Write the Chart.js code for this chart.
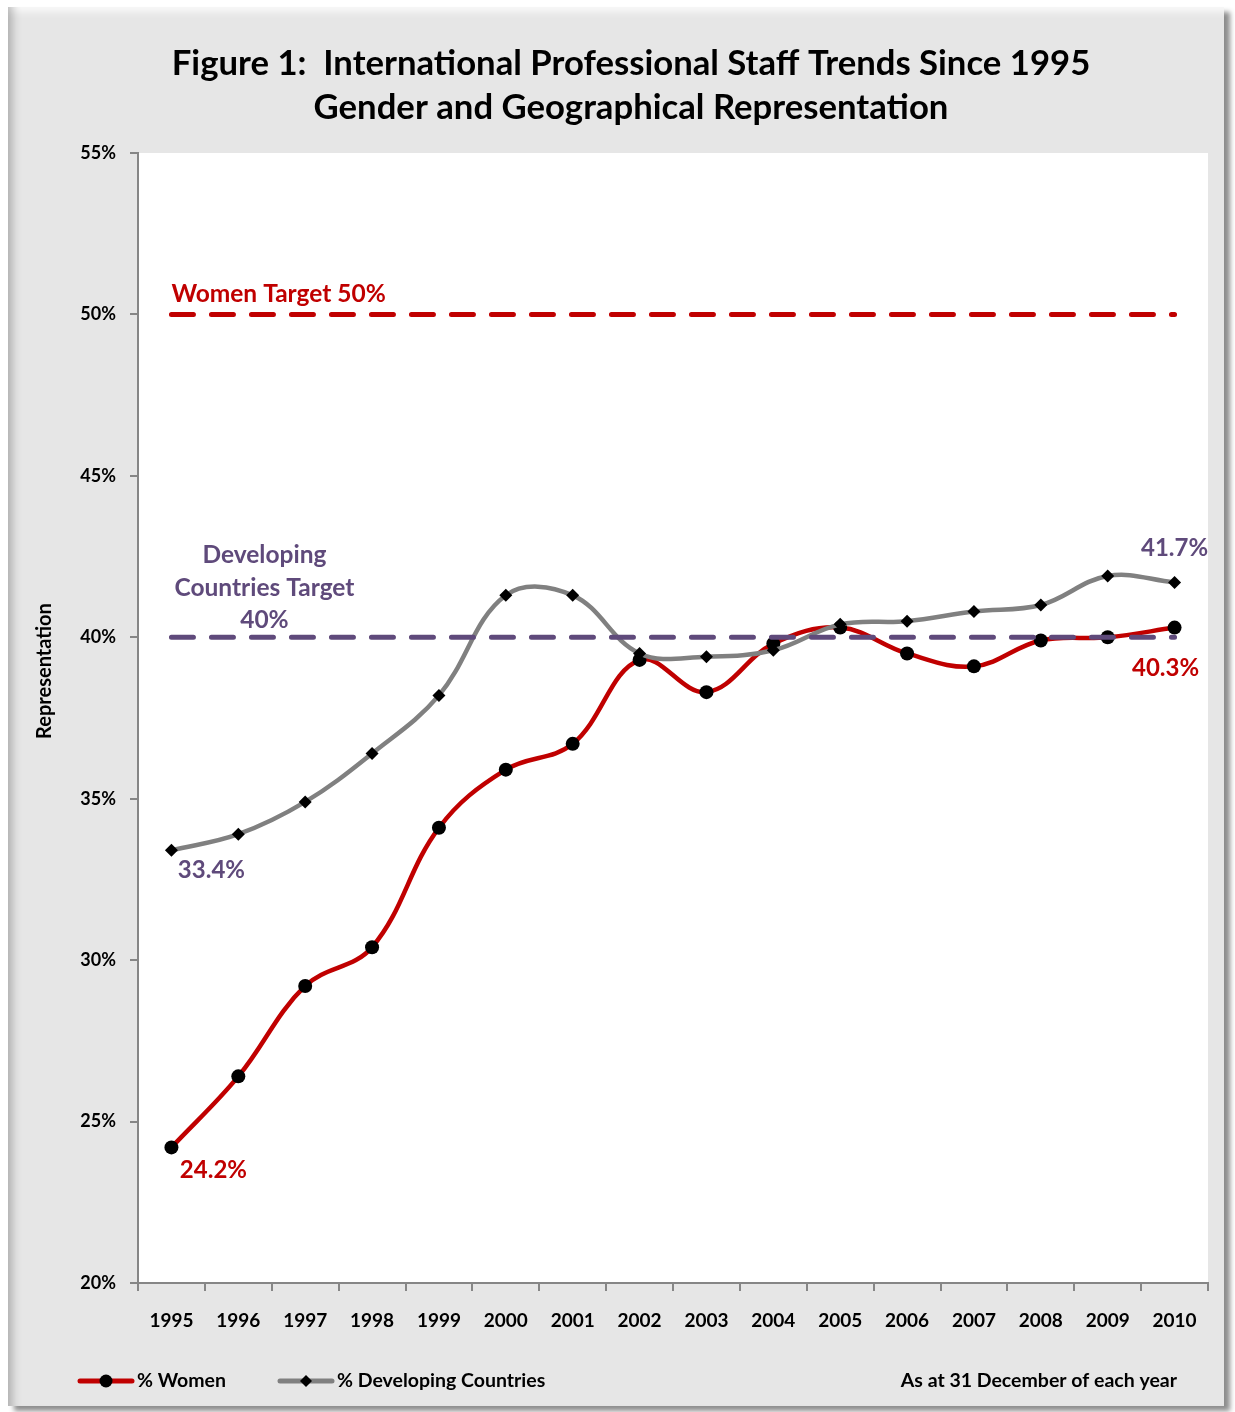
<!DOCTYPE html>
<html>
<head>
<meta charset="utf-8">
<title>Figure 1</title>
<script src="https://cdn.jsdelivr.net/npm/chart.js@4.4.0/dist/chart.umd.min.js"></script>
<style>
    body { margin: 0; background: #fff; }
    #wrap { position: relative; width: 1235px; height: 1412px; }
    #frame {
        position: absolute; left: 8px; top: 7px; width: 1216px; height: 1399px;
        background: #e6e6e6;
        box-shadow: 6px 5px 5px rgba(0, 0, 0, 0.45),
                    inset 12px 0 10px -8px rgba(0, 0, 0, 0.25),
                    inset 0 12px 8px -8px rgba(255, 255, 255, 0.9);
    }
    canvas { position: absolute; left: 0; top: 0; }
</style>
</head>
<body>
<div id="wrap">
    <div id="frame"></div>
    <canvas id="chart" width="1235" height="1412"></canvas>
</div>
<script>
// Data
const years = ['1995', '1996', '1997', '1998', '1999', '2000', '2001', '2002',
               '2003', '2004', '2005', '2006', '2007', '2008', '2009', '2010'];
const womenPct = [24.2, 26.4, 29.2, 30.4, 34.1, 35.9, 36.7, 39.3,
                  38.3, 39.8, 40.3, 39.5, 39.1, 39.9, 40.0, 40.3];
const developingPct = [33.4, 33.9, 34.9, 36.4, 38.2, 41.3, 41.3, 39.5,
                       39.4, 39.6, 40.4, 40.5, 40.8, 41.0, 41.9, 41.7];
const womenTarget = 50;
const developingTarget = 40;
const yTicks = [20, 25, 30, 35, 40, 45, 50, 55];

const FONT = "Lato, 'Open Sans', sans-serif";
const colors = {
    red: '#c00000',
    gray: '#808080',
    purple: '#5f4a7b',
    axis: '#868686',
    marker: '#000000'
};

// white plot area
const plotBackground = {
    id: 'plotBackground',
    beforeDraw(chart) {
        const { ctx, chartArea: a } = chart;
        ctx.save();
        ctx.fillStyle = '#ffffff';
        ctx.fillRect(a.left, a.top, a.right - a.left, a.bottom - a.top);
        ctx.restore();
    }
};

// title, axis title, callouts and legend
const textPlugin = {
    id: 'textPlugin',
    afterDraw(chart) {
        const { ctx, scales: { x, y } } = chart;
        ctx.save();
        ctx.textBaseline = 'middle';

        ctx.fillStyle = '#000';
        ctx.textAlign = 'center';
        ctx.font = 'bold 34.7px ' + FONT;
        ctx.fillText('Figure 1:  International Professional Staff Trends Since 1995', 631, 64);
        ctx.fillText('Gender and Geographical Representation', 631, 108);

        ctx.save();
        ctx.translate(45, 671);
        ctx.rotate(-Math.PI / 2);
        ctx.font = 'bold 20px ' + FONT;
        ctx.fillText('Representation', 0, 0);
        ctx.restore();

        const x0 = x.getPixelForValue(0);
        const xN = x.getPixelForValue(years.length - 1);

        ctx.font = 'bold 24.5px ' + FONT;
        ctx.fillStyle = colors.red;
        ctx.textAlign = 'left';
        ctx.fillText('Women Target 50%', x0, y.getPixelForValue(womenTarget) - 20);

        ctx.fillStyle = colors.purple;
        ctx.textAlign = 'center';
        const ty = y.getPixelForValue(developingTarget);
        ctx.fillText('Developing', x0 + 93, ty - 82);
        ctx.fillText('Countries Target', x0 + 93, ty - 49);
        ctx.fillText('40%', x0 + 93, ty - 17);

        ctx.font = 'bold 24px ' + FONT;
        ctx.fillText(developingPct[0].toFixed(1) + '%', x0 + 40, y.getPixelForValue(developingPct[0]) + 20);
        ctx.fillText(developingPct[15].toFixed(1) + '%', xN, y.getPixelForValue(developingPct[15]) - 34);
        ctx.fillStyle = colors.red;
        ctx.fillText(womenPct[0].toFixed(1) + '%', x0 + 42, y.getPixelForValue(womenPct[0]) + 23);
        ctx.fillText(womenPct[15].toFixed(1) + '%', xN - 9, y.getPixelForValue(womenPct[15]) + 41);

        // legend
        const ly = 1381;
        ctx.lineCap = 'round';
        ctx.lineWidth = 5;
        ctx.strokeStyle = colors.red;
        ctx.beginPath(); ctx.moveTo(80, ly); ctx.lineTo(132, ly); ctx.stroke();
        ctx.fillStyle = colors.marker;
        ctx.beginPath(); ctx.arc(106, ly, 6.5, 0, Math.PI * 2); ctx.fill();

        ctx.strokeStyle = colors.gray;
        ctx.beginPath(); ctx.moveTo(280, ly); ctx.lineTo(332, ly); ctx.stroke();
        ctx.beginPath();
        ctx.moveTo(306, ly - 6); ctx.lineTo(312, ly); ctx.lineTo(306, ly + 6); ctx.lineTo(300, ly);
        ctx.closePath(); ctx.fill();

        ctx.font = 'bold 19.5px ' + FONT;
        ctx.fillStyle = '#000';
        ctx.textAlign = 'left';
        ctx.fillText('% Women', 137, ly);
        ctx.fillText('% Developing Countries', 337, ly);
        ctx.textAlign = 'right';
        ctx.fillText('As at 31 December of each year', 1177, ly);
        ctx.restore();
    }
};

const ctx = document.getElementById('chart').getContext('2d');

new Chart(ctx, {
    type: 'line',
    data: {
        labels: years,
        datasets: [
            {
                label: 'Women Target',
                data: years.map(() => womenTarget),
                borderColor: colors.red,
                borderWidth: 5,
                borderDash: [22, 18],
                borderCapStyle: 'round',
                pointRadius: 0,
                tension: 0
            },
            {
                label: 'Developing Countries Target',
                data: years.map(() => developingTarget),
                borderColor: colors.purple,
                borderWidth: 5,
                borderDash: [22, 18],
                borderCapStyle: 'round',
                pointRadius: 0,
                tension: 0
            },
            {
                label: '% Developing Countries',
                data: developingPct,
                borderColor: colors.gray,
                borderWidth: 4.5,
                tension: 0.38,
                pointStyle: 'rectRot',
                pointRadius: 6.5,
                pointBackgroundColor: colors.marker,
                pointBorderColor: colors.marker,
                pointBorderWidth: 0
            },
            {
                label: '% Women',
                data: womenPct,
                borderColor: colors.red,
                borderWidth: 4.5,
                tension: 0.38,
                pointStyle: 'circle',
                pointRadius: 7,
                pointBackgroundColor: colors.marker,
                pointBorderColor: colors.marker,
                pointBorderWidth: 0
            }
        ]
    },
    options: {
        responsive: false,
        animation: false,
        layout: {
            padding: { left: 0, top: 153, right: 27, bottom: 69 }
        },
        plugins: {
            legend: { display: false },
            tooltip: { enabled: false },
            title: { display: false }
        },
        scales: {
            x: {
                offset: true,
                grid: {
                    display: true,
                    drawOnChartArea: false,
                    offset: true,
                    tickLength: 8,
                    color: colors.axis,
                    lineWidth: 2
                },
                border: { color: colors.axis, width: 2 },
                ticks: {
                    color: '#000',
                    maxRotation: 0,
                    autoSkip: false,
                    padding: 18,
                    font: { family: FONT, size: 19, weight: 'bold' }
                },
                afterFit: scale => { scale.height = 60; }
            },
            y: {
                min: yTicks[0],
                max: yTicks[yTicks.length - 1],
                afterBuildTicks: scale => { scale.ticks = yTicks.map(v => ({ value: v })); },
                grid: {
                    display: true,
                    drawOnChartArea: false,
                    tickLength: 8,
                    color: colors.axis,
                    lineWidth: 2
                },
                border: { color: colors.axis, width: 2 },
                ticks: {
                    color: '#000',
                    padding: 14,
                    callback: value => value + '%',
                    font: { family: FONT, size: 18, weight: 'bold' }
                },
                afterFit: scale => { scale.width = 138; }
            }
        }
    },
    plugins: [plotBackground, textPlugin]
});
</script>
</body>
</html>
